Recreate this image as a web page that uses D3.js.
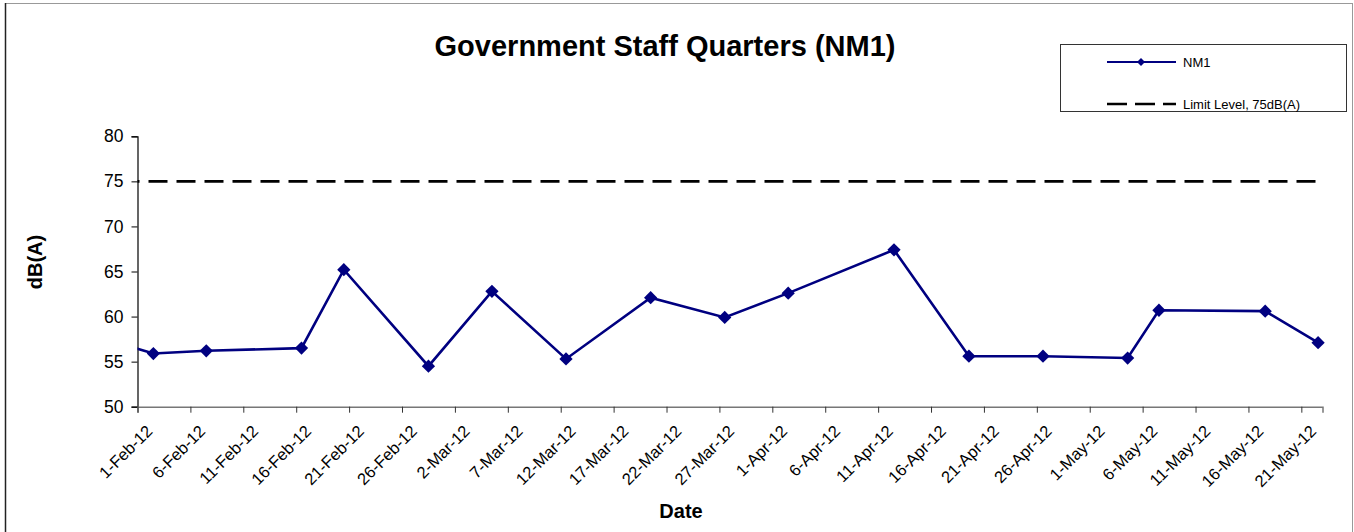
<!DOCTYPE html>
<html>
<head>
<meta charset="utf-8">
<script src="https://cdn.jsdelivr.net/npm/d3@7"></script>
<style>
  body { margin: 0; background: #fff; }
  text { font-family: "Liberation Sans", Arial, sans-serif; }
</style>
</head>
<body>
<script>
// svg size and plot bounds
var w = 1354;
var h = 532;
var plotLeft = 137.5, plotRight = 1322.5, plotTop = 136.3, plotBottom = 406.7;

// measurement dates and noise levels (first point sits before the axis start, clipped)
var sampleDates = ["2012-01-27 12:00", "2012-02-02 12:00", "2012-02-07 12:00", "2012-02-16 12:00",
  "2012-02-20 12:00", "2012-02-28 12:00", "2012-03-05 12:00", "2012-03-12 12:00",
  "2012-03-20 12:00", "2012-03-27 12:00", "2012-04-02 12:00", "2012-04-12 12:00",
  "2012-04-19 14:00", "2012-04-26 14:00", "2012-05-04 14:00", "2012-05-07 13:00",
  "2012-05-17 14:00", "2012-05-22 14:00"];
var levels = [58.0, 55.9, 56.2, 56.5, 65.2, 54.5, 62.8, 55.3, 62.1, 59.9, 62.6, 67.4,
  55.6, 55.6, 55.4, 60.7, 60.6, 57.1];

// limit level
var limitLevel = 75;

// axis domain and tick labels
var xDomain = ["2012-02-01 00:00", "2012-05-23 00:00"];
var tickDates = ["1-Feb-12", "6-Feb-12", "11-Feb-12", "16-Feb-12", "21-Feb-12", "26-Feb-12",
  "2-Mar-12", "7-Mar-12", "12-Mar-12", "17-Mar-12", "22-Mar-12", "27-Mar-12", "1-Apr-12",
  "6-Apr-12", "11-Apr-12", "16-Apr-12", "21-Apr-12", "26-Apr-12", "1-May-12", "6-May-12",
  "11-May-12", "16-May-12", "21-May-12"];
var yTicks = [50, 55, 60, 65, 70, 75, 80];

var parseTime = d3.timeParse("%Y-%m-%d %H:%M");
var parseTick = d3.timeParse("%-d-%b-%y");

var svg = d3.select("body").append("svg")
  .attr("width", w)
  .attr("height", h);

// outer chart border
svg.append("rect")
  .attr("x", 5.5).attr("y", 3.5)
  .attr("width", 1347).attr("height", 560)
  .attr("fill", "none")
  .attr("stroke", "#999");
svg.append("line")
  .attr("x1", 5.5).attr("x2", 5.5).attr("y1", 3).attr("y2", h)
  .attr("stroke", "#222").attr("stroke-width", 1.5);

var xScale = d3.scaleTime()
  .domain(xDomain.map(parseTime))
  .range([plotLeft, plotRight]);

var yScale = d3.scaleLinear()
  .domain([50, 80])
  .range([plotBottom, plotTop]);

// title
svg.append("text")
  .attr("x", 665)
  .attr("y", 56)
  .attr("text-anchor", "middle")
  .style("font-size", "29px")
  .style("font-weight", "bold")
  .text("Government Staff Quarters (NM1)");

// y axis
var yAxis = svg.append("g")
  .attr("transform", "translate(" + plotLeft + ",0)")
  .call(d3.axisLeft(yScale).tickValues(yTicks).tickSize(6).tickPadding(8));
yAxis.select(".domain").attr("stroke", "#000").attr("stroke-width", 1.2);
yAxis.selectAll("text").style("font-size", "17.5px").attr("fill", "#000");

// x axis
var xAxis = svg.append("g")
  .attr("transform", "translate(0," + plotBottom + ")")
  .call(d3.axisBottom(xScale)
    .tickValues(tickDates.map(parseTick))
    .tickSize(6)
    .tickFormat(function(d, i) { return tickDates[i]; }));
xAxis.select(".domain").attr("stroke", "#777").attr("stroke-width", 1.5);
xAxis.selectAll(".tick line").attr("stroke", "#333");
xAxis.selectAll("text")
  .style("font-size", "16.5px")
  .attr("fill", "#000")
  .attr("text-anchor", "end")
  .attr("dy", "0.35em")
  .attr("transform", "translate(5,15) rotate(-45)");

// axis labels
svg.append("text")
  .attr("x", 681)
  .attr("y", 518)
  .attr("text-anchor", "middle")
  .style("font-size", "20px")
  .style("font-weight", "bold")
  .text("Date");

svg.append("text")
  .attr("transform", "rotate(-90)")
  .attr("x", -262)
  .attr("y", 42)
  .attr("text-anchor", "middle")
  .style("font-size", "20px")
  .style("font-weight", "bold")
  .text("dB(A)");

// clip to plot area
svg.append("clipPath").attr("id", "plot")
  .append("rect")
  .attr("x", plotLeft).attr("y", plotTop - 10)
  .attr("width", plotRight - plotLeft + 10).attr("height", plotBottom - plotTop + 20);

// limit line
svg.append("line")
  .attr("x1", plotLeft).attr("x2", plotRight)
  .attr("y1", yScale(limitLevel)).attr("y2", yScale(limitLevel))
  .attr("stroke", "#000")
  .attr("stroke-width", 2.6)
  .attr("stroke-dasharray", "19,9")
  .attr("stroke-dashoffset", 17);

var data = sampleDates.map(function(d, i) {
  return { date: parseTime(d), value: levels[i] };
});

var line = d3.line()
  .x(function(d) { return xScale(d.date); })
  .y(function(d) { return yScale(d.value); });

var series = svg.append("g").attr("clip-path", "url(#plot)");

series.append("path")
  .datum(data)
  .attr("d", line)
  .attr("fill", "none")
  .attr("stroke", "#000080")
  .attr("stroke-width", 2.6);

series.selectAll(".marker")
  .data(data)
  .enter()
  .append("path")
  .attr("class", "marker")
  .attr("d", d3.symbol().type(d3.symbolSquare).size(88))
  .attr("transform", function(d) {
    return "translate(" + xScale(d.date) + "," + yScale(d.value) + ") rotate(45)";
  })
  .attr("fill", "#000080");

// legend
var lg = svg.append("g");
lg.append("rect")
  .attr("x", 1060.5).attr("y", 44.5)
  .attr("width", 286).attr("height", 67)
  .attr("fill", "#fff")
  .attr("stroke", "#333");
lg.append("line")
  .attr("x1", 1107).attr("x2", 1176).attr("y1", 62).attr("y2", 62)
  .attr("stroke", "#000080").attr("stroke-width", 2.2);
lg.append("path")
  .attr("d", d3.symbol().type(d3.symbolSquare).size(32))
  .attr("transform", "translate(1141,62) rotate(45)")
  .attr("fill", "#000080");
lg.append("text")
  .attr("x", 1183).attr("y", 66.5)
  .style("font-size", "13px")
  .text("NM1");
lg.append("line")
  .attr("x1", 1107).attr("x2", 1176).attr("y1", 104).attr("y2", 104)
  .attr("stroke", "#000").attr("stroke-width", 2.4)
  .attr("stroke-dasharray", "20,8");
lg.append("text")
  .attr("x", 1183).attr("y", 108.5)
  .style("font-size", "13px")
  .text("Limit Level, 75dB(A)");
</script>
</body>
</html>
